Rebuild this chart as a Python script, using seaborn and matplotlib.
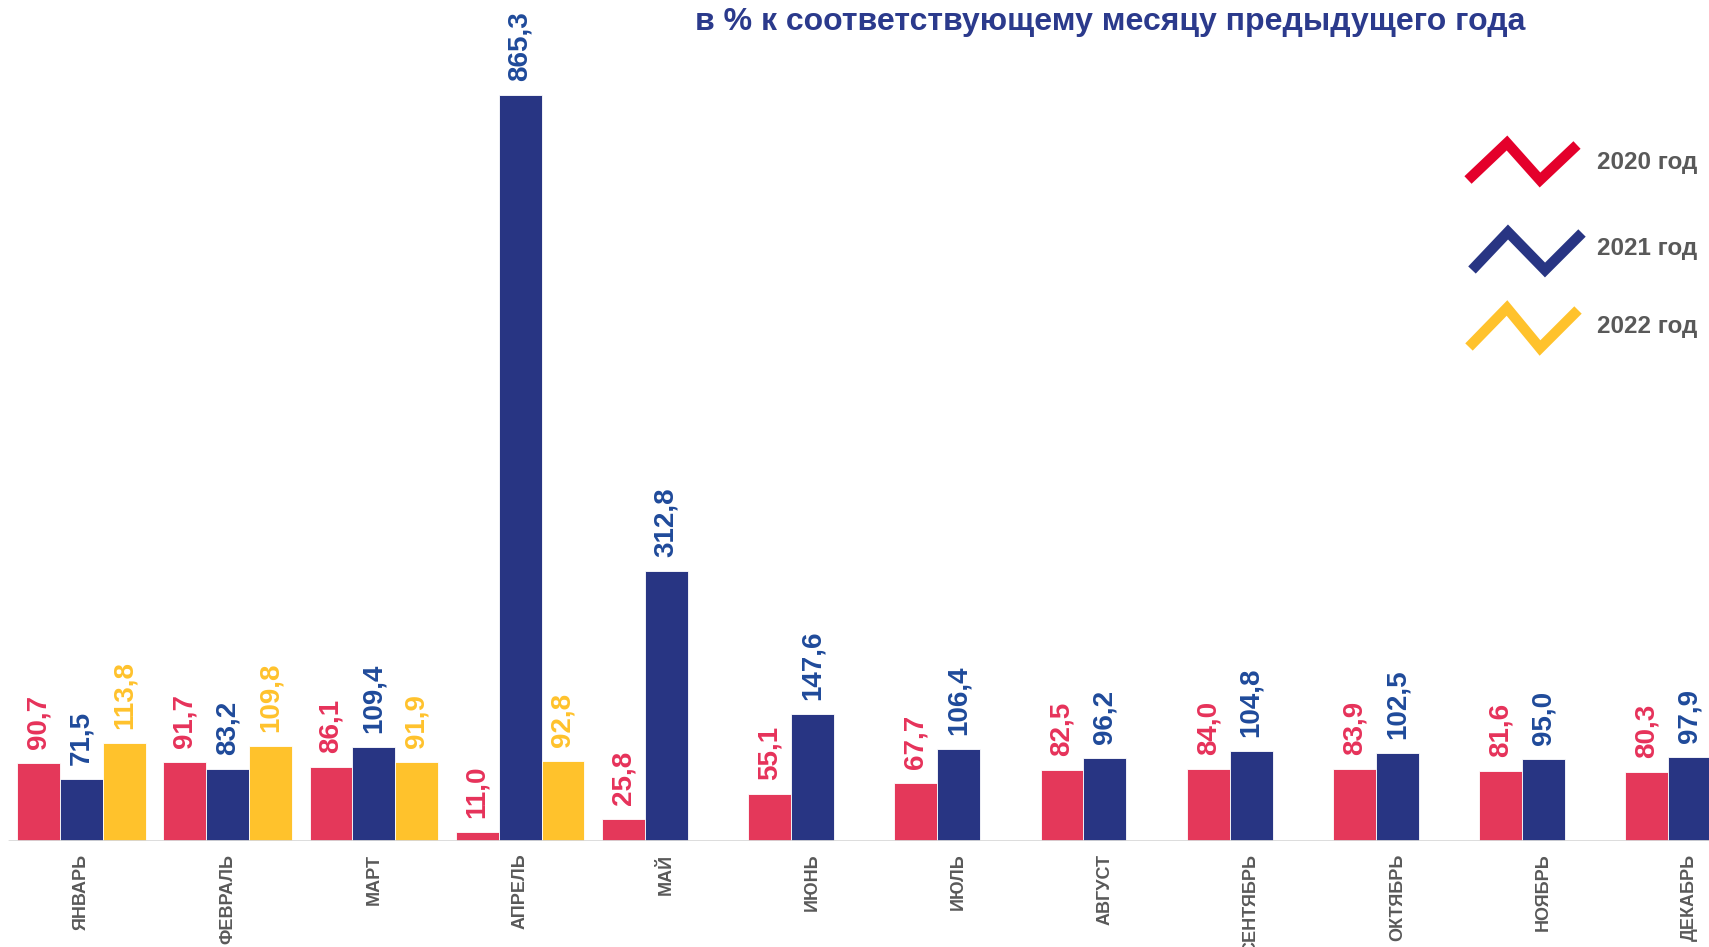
import numpy as np
import pandas as pd
import seaborn as sns
import matplotlib
matplotlib.use('Agg')
import matplotlib.pyplot as plt
from matplotlib.lines import Line2D
from matplotlib import font_manager

# --- data ---
months = ['ЯНВАРЬ', 'ФЕВРАЛЬ', 'МАРТ', 'АПРЕЛЬ', 'МАЙ', 'ИЮНЬ', 'ИЮЛЬ',
          'АВГУСТ', 'СЕНТЯБРЬ', 'ОКТЯБРЬ', 'НОЯБРЬ', 'ДЕКАБРЬ']
years = ['2020 год', '2021 год', '2022 год']
v2020 = [90.7, 91.7, 86.1, 11.0, 25.8, 55.1, 67.7, 82.5, 84.0, 83.9, 81.6, 80.3]
v2021 = [71.5, 83.2, 109.4, 865.3, 312.8, 147.6, 106.4, 96.2, 104.8, 102.5, 95.0, 97.9]
v2022 = [113.8, 109.8, 91.9, 92.8] + [np.nan] * 8

title = 'в % к соответствующему месяцу предыдущего года'

bar_colors = ['#E4385A', '#283583', '#FFC22C']
label_colors = ['#E6325A', '#1F4A9A', '#FFC22C']

sns.set_theme(style='white')
plt.rcParams['font.family'] = ['Liberation Sans', 'DejaVu Sans']

df = pd.DataFrame({
    'month': months * 3,
    'year': [y for y in years for _ in months],
    'value': v2020 + v2021 + v2022,
}).dropna()

W, H = 1709, 947
fig = plt.figure(figsize=(W / 100, H / 100), dpi=100)
base_px = 841
ax = fig.add_axes([0, (H - base_px) / H, 1, base_px / H])

sns.barplot(data=df, x='month', y='value', hue='year', order=months,
            hue_order=years, palette=bar_colors, saturation=1, width=0.88,
            legend=False, edgecolor='white', linewidth=0.6, ax=ax)

ax.set_ylim(0, base_px / 0.862)
ax.set_xlim(-81.5 / 146.2, (W - 81.5) / 146.2)

for cont, col in zip(ax.containers, label_colors):
    labels = [f'{v:.1f}'.replace('.', ',') for v in cont.datavalues]
    ax.bar_label(cont, labels=labels, rotation=90, padding=10, color=col,
                 fontsize=20, fontweight='bold')

ax.axhline(0, xmin=9 / W, xmax=1, color='#D9D9D9', lw=2, zorder=5)

for s in ax.spines.values():
    s.set_visible(False)
ax.set_yticks([])
ax.set_xlabel('')
ax.set_ylabel('')
ax.tick_params(axis='x', length=0, pad=9)
plt.setp(ax.get_xticklabels(), rotation=90, fontsize=13, fontweight='bold',
         color='#595959')

# title
narrow = [f.name for f in font_manager.fontManager.ttflist if f.name == 'Liberation Sans Narrow']
title_family = ['Liberation Sans Narrow', 'DejaVu Sans'] if narrow else ['Liberation Sans', 'DejaVu Sans']
title_size = 28 if narrow else 23
fig.text(1110 / W, 1 - 22 / H, title, ha='center', va='center',
         fontsize=title_size, fontweight='bold', color='#2B3A8C',
         family=title_family)

# legend drawn as zigzag glyphs
def px(xs, ys):
    return [x / W for x in xs], [1 - y / H for y in ys]

legend_glyphs = [
    ([1468, 1507, 1540, 1577], [180, 143, 180, 145], 163),
    ([1472, 1508, 1545, 1582], [270, 232, 270, 233], 248),
    ([1469, 1507, 1540, 1578], [347, 308, 348, 310], 327),
]
for (gx, gy, ty), col, name in zip(legend_glyphs, bar_colors, years):
    fx, fy = px(gx, gy)
    fig.add_artist(Line2D(fx, fy, color='#E4002B' if col == '#E4385A' else col,
                          lw=7.5, solid_joinstyle='miter', solid_capstyle='butt'))
    fig.text(1597 / W, 1 - ty / H, name, ha='left', va='center',
             fontsize=17.5, fontweight='bold', color='#595959')

fig.savefig('out.png', dpi=100)
